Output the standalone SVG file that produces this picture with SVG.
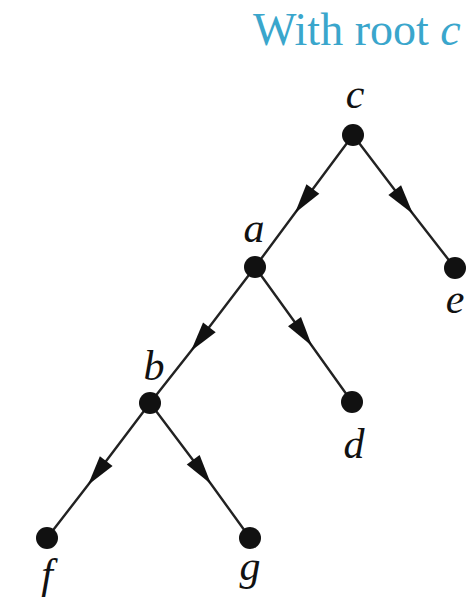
<svg xmlns="http://www.w3.org/2000/svg" width="467" height="605" viewBox="0 0 467 605">
<style>
.title{font-family:"Liberation Serif",serif;font-size:46px;fill:#3aa6cc}
.lbl{font-family:"Liberation Serif",serif;font-style:italic;font-size:42px;fill:#111;text-anchor:middle}
.node{fill:#111}
.edge{fill:none;stroke:#222;stroke-width:2.4;marker-mid:url(#arr)}
</style>
<defs>
<marker id="arr" markerUnits="userSpaceOnUse" markerWidth="30" markerHeight="16" viewBox="0 0 30 16" refX="30" refY="8" orient="auto" overflow="visible">
<path d="M0,0 L30,8 L0,16 z" fill="#111"/>
</marker>
</defs>
<rect width="467" height="605" fill="#fff"/>
<text class="title" x="253" y="45">With root <tspan font-style="italic">c</tspan></text>
<g id="connectors">
<path class="edge" d="M353,135 L295,213 L255,267"/>
<path class="edge" d="M353,135 L413,214 L455,268"/>
<path class="edge" d="M255,267 L191,351 L150,403"/>
<path class="edge" d="M255,267 L312,346 L352,402"/>
<path class="edge" d="M150,403 L88,485 L47,538"/>
<path class="edge" d="M150,403 L211,484 L250,538"/>
</g>
<g id="node-c"><circle class="node" cx="353" cy="135" r="11"/><text class="lbl" x="355" y="108">c</text></g>
<g id="node-a"><circle class="node" cx="255" cy="267" r="11"/><text class="lbl" x="254" y="242">a</text></g>
<g id="node-e"><circle class="node" cx="455" cy="268" r="11"/><text class="lbl" x="455" y="313">e</text></g>
<g id="node-b"><circle class="node" cx="150" cy="403" r="11"/><text class="lbl" x="154" y="380">b</text></g>
<g id="node-d"><circle class="node" cx="352" cy="402" r="11"/><text class="lbl" x="354" y="458">d</text></g>
<g id="node-f"><circle class="node" cx="47" cy="538" r="11"/><text class="lbl" x="47" y="588">f</text></g>
<g id="node-g"><circle class="node" cx="250" cy="538" r="11"/><text class="lbl" x="250" y="580">g</text></g>
</svg>
